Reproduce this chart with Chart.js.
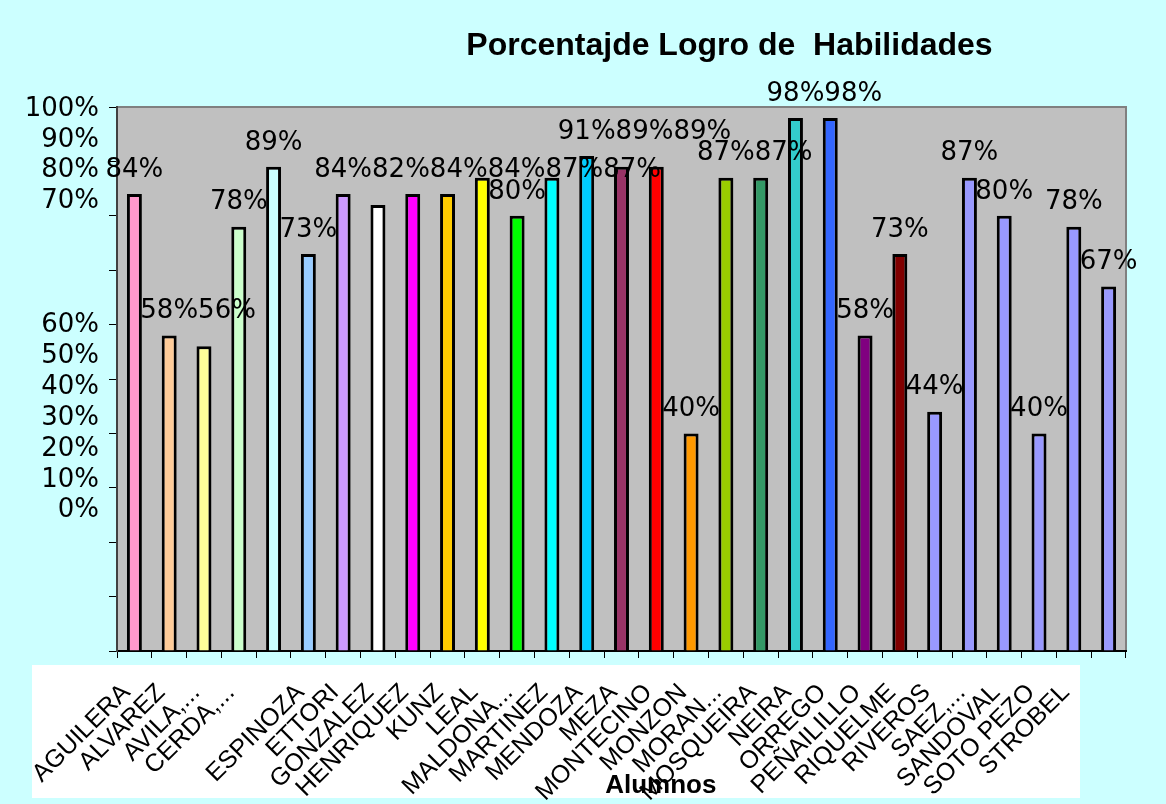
<!DOCTYPE html>
<html><head><meta charset="utf-8">
<script src="https://cdn.jsdelivr.net/npm/chart.js@4/dist/chart.umd.min.js"></script>
<style>html,body{margin:0;padding:0;background:#ccffff;}canvas{display:block;}</style>
</head><body>
<canvas id="c" width="1166" height="804"></canvas>
<script>
const categories = ['AGUILERA','ALVAREZ','AVILA,...','CERDA,...','','ESPINOZA','ETTORI','GONZALEZ','HENRIQUEZ','KUNZ','LEAL','MALDONA...','MARTINEZ','MENDOZA','MEZA','MONTECINO','MONZON','MORAN...','MOSQUEIRA','NEIRA','ORREGO','PEÑAILILLO','RIQUELME','RIVEROS','SAEZ,...','SANDOVAL','SOTO PEZO','STROBEL',''];
const values = [84,58,56,78,89,73,84,82,84,84,87,80,87,91,89,89,40,87,87,98,98,58,73,44,87,80,40,78,67];
const barColors = ['#ff99cc','#ffcc99','#ffff99','#ccffcc','#ccffff','#99ccff','#cc99ff','#ffffff','#ff00ff','#ffcc00','#ffff00','#00ff00','#00ffff','#00ccff','#993366','#ff0000','#ff9900','#99cc00','#339966','#33cccc','#3366ff','#800080','#800000','#9999ff','#9999ff','#9999ff','#9999ff','#9999ff','#9999ff'];
const yTickLabels = ['0%','10%','20%','30%','40%','50%','60%','','','','70%','80%','90%','100%'];
const chartTitle = 'Porcentajde Logro de  Habilidades';
const xAxisTitle = 'Alumnos';

const framePlugin = {
  id: 'frame',
  beforeDraw(chart) {
    const {ctx, chartArea: a, width, height} = chart;
    ctx.save();
    ctx.fillStyle = '#ccffff';
    ctx.fillRect(0, 0, width, height);
    ctx.fillStyle = '#ffffff';
    ctx.fillRect(32, a.bottom + 14, a.right - 46 - 32, height - 6 - (a.bottom + 14));
    ctx.fillStyle = '#c0c0c0';
    ctx.fillRect(a.left, a.top, a.right - a.left, a.bottom - a.top);
    ctx.strokeStyle = '#808080';
    ctx.lineWidth = 2;
    ctx.strokeRect(a.left, a.top, a.right - a.left, a.bottom - a.top);
    ctx.restore();
  },
  afterDraw(chart) {
    const {ctx, chartArea: a, height} = chart;
    ctx.save();
    ctx.fillStyle = '#000';
    ctx.textAlign = 'center';
    ctx.textBaseline = 'alphabetic';
    ctx.font = 'bold 32px "Liberation Sans", Arial, sans-serif';
    ctx.fillText(chartTitle, a.left + (a.right - a.left) * 0.607, 55);
    ctx.font = 'bold 26px "Liberation Sans", Arial, sans-serif';
    ctx.fillText(xAxisTitle, a.left + (a.right - a.left) * 0.539, height - 11);
    ctx.restore();
  }
};

const labelPlugin = {
  id: 'barLabels',
  afterDatasetsDraw(chart) {
    const {ctx} = chart;
    const meta = chart.getDatasetMeta(0);
    ctx.save();
    ctx.font = '26px "DejaVu Sans", sans-serif';
    ctx.fillStyle = '#000';
    ctx.textAlign = 'center';
    ctx.textBaseline = 'middle';
    const placed = [];
    meta.data.forEach((el, i) => {
      const text = values[i] + '%';
      const w = ctx.measureText(text).width;
      let x = el.x, y = el.y - 24;
      let moved = true, guard = 0;
      while (moved && guard < 40) {
        moved = false; guard++;
        for (const p of placed) {
          if (Math.abs(x - p.x) < (w + p.w) / 2 - 0.5 && Math.abs(y - p.y) < 20) {
            x = p.x + (w + p.w) / 2; y = p.y; moved = true;
          }
        }
      }
      placed.push({x, y, w});
      ctx.fillText(text, x, y);
    });
    ctx.restore();
  }
};

new Chart(document.getElementById('c'), {
  type: 'bar',
  data: {
    labels: categories,
    datasets: [{
      data: values,
      backgroundColor: barColors,
      borderColor: '#000',
      borderWidth: 3,
      barPercentage: 0.43,
      categoryPercentage: 1
    }]
  },
  plugins: [framePlugin, labelPlugin],
  options: {
    responsive: false,
    animation: false,
    devicePixelRatio: 1,
    layout: {padding: {left: 25, right: 40, top: 107, bottom: 0}},
    plugins: {legend: {display: false}, title: {display: false}, tooltip: {enabled: false}},
    scales: {
      x: {
        offset: true,
        grid: {display: true, drawOnChartArea: false, drawTicks: true, tickLength: 7, color: '#000', offset: true},
        border: {display: true, color: '#000', width: 2},
        ticks: {
          autoSkip: false, minRotation: 45, maxRotation: 45, padding: 20, labelOffset: -8,
          color: '#000', font: {family: '"Liberation Sans", Arial, sans-serif', size: 25}
        },
        afterFit(s) { s.height = 153; }
      },
      y: {
        position: 'left', weight: 0, min: 0, max: 100,
        ticks: {display: false, stepSize: 10},
        grid: {display: true, drawOnChartArea: false, drawTicks: true, tickLength: 8, color: '#000'},
        border: {display: true, color: '#404040', width: 2},
        afterFit(s) { s.width = 8; }
      },
      y2: {
        type: 'linear', position: 'left', weight: 10,
        min: -4.54, max: 13.06, bounds: 'data',
        grid: {display: false, drawTicks: false, tickLength: 0},
        border: {display: false},
        afterBuildTicks(s) { s.ticks = yTickLabels.map((_, i) => ({value: i})); },
        ticks: {
          padding: 10, color: '#000',
          font: {family: '"DejaVu Sans", sans-serif', size: 26},
          callback: (v) => yTickLabels[Math.round(v)] ?? ''
        },
        afterFit(s) { s.width = 84; }
      }
    }
  }
});
</script>
</body></html>
